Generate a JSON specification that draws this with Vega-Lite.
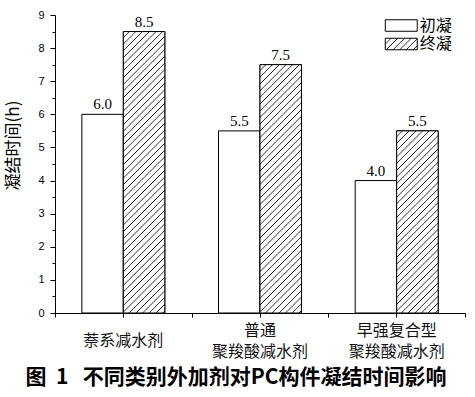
{
  "$schema": "https://vega.github.io/schema/vega-lite/v6.json",
  "width": 410,
  "height": 298,
  "autosize": "none",
  "padding": {"left": 55, "top": 15, "right": 10, "bottom": 84},
  "params": [
    {"name": "hatch", "value": [
      {"offset":0.015,"color":"#fff"},{"offset":0.0175,"color":"#000"},{"offset":0.02,"color":"#fff"},
      {"offset":0.035,"color":"#fff"},{"offset":0.0375,"color":"#000"},{"offset":0.04,"color":"#fff"},
      {"offset":0.055,"color":"#fff"},{"offset":0.0575,"color":"#000"},{"offset":0.06,"color":"#fff"},
      {"offset":0.075,"color":"#fff"},{"offset":0.0775,"color":"#000"},{"offset":0.08,"color":"#fff"},
      {"offset":0.095,"color":"#fff"},{"offset":0.0975,"color":"#000"},{"offset":0.1,"color":"#fff"},
      {"offset":0.115,"color":"#fff"},{"offset":0.1175,"color":"#000"},{"offset":0.12,"color":"#fff"},
      {"offset":0.135,"color":"#fff"},{"offset":0.1375,"color":"#000"},{"offset":0.14,"color":"#fff"},
      {"offset":0.155,"color":"#fff"},{"offset":0.1575,"color":"#000"},{"offset":0.16,"color":"#fff"},
      {"offset":0.175,"color":"#fff"},{"offset":0.1775,"color":"#000"},{"offset":0.18,"color":"#fff"},
      {"offset":0.195,"color":"#fff"},{"offset":0.1975,"color":"#000"},{"offset":0.2,"color":"#fff"},
      {"offset":0.215,"color":"#fff"},{"offset":0.2175,"color":"#000"},{"offset":0.22,"color":"#fff"},
      {"offset":0.235,"color":"#fff"},{"offset":0.2375,"color":"#000"},{"offset":0.24,"color":"#fff"},
      {"offset":0.255,"color":"#fff"},{"offset":0.2575,"color":"#000"},{"offset":0.26,"color":"#fff"},
      {"offset":0.275,"color":"#fff"},{"offset":0.2775,"color":"#000"},{"offset":0.28,"color":"#fff"},
      {"offset":0.295,"color":"#fff"},{"offset":0.2975,"color":"#000"},{"offset":0.3,"color":"#fff"},
      {"offset":0.315,"color":"#fff"},{"offset":0.3175,"color":"#000"},{"offset":0.32,"color":"#fff"},
      {"offset":0.335,"color":"#fff"},{"offset":0.3375,"color":"#000"},{"offset":0.34,"color":"#fff"},
      {"offset":0.355,"color":"#fff"},{"offset":0.3575,"color":"#000"},{"offset":0.36,"color":"#fff"},
      {"offset":0.375,"color":"#fff"},{"offset":0.3775,"color":"#000"},{"offset":0.38,"color":"#fff"},
      {"offset":0.395,"color":"#fff"},{"offset":0.3975,"color":"#000"},{"offset":0.4,"color":"#fff"},
      {"offset":0.415,"color":"#fff"},{"offset":0.4175,"color":"#000"},{"offset":0.42,"color":"#fff"},
      {"offset":0.435,"color":"#fff"},{"offset":0.4375,"color":"#000"},{"offset":0.44,"color":"#fff"},
      {"offset":0.455,"color":"#fff"},{"offset":0.4575,"color":"#000"},{"offset":0.46,"color":"#fff"},
      {"offset":0.475,"color":"#fff"},{"offset":0.4775,"color":"#000"},{"offset":0.48,"color":"#fff"},
      {"offset":0.495,"color":"#fff"},{"offset":0.4975,"color":"#000"},{"offset":0.5,"color":"#fff"},
      {"offset":0.515,"color":"#fff"},{"offset":0.5175,"color":"#000"},{"offset":0.52,"color":"#fff"},
      {"offset":0.535,"color":"#fff"},{"offset":0.5375,"color":"#000"},{"offset":0.54,"color":"#fff"},
      {"offset":0.555,"color":"#fff"},{"offset":0.5575,"color":"#000"},{"offset":0.56,"color":"#fff"},
      {"offset":0.575,"color":"#fff"},{"offset":0.5775,"color":"#000"},{"offset":0.58,"color":"#fff"},
      {"offset":0.595,"color":"#fff"},{"offset":0.5975,"color":"#000"},{"offset":0.6,"color":"#fff"},
      {"offset":0.615,"color":"#fff"},{"offset":0.6175,"color":"#000"},{"offset":0.62,"color":"#fff"},
      {"offset":0.635,"color":"#fff"},{"offset":0.6375,"color":"#000"},{"offset":0.64,"color":"#fff"},
      {"offset":0.655,"color":"#fff"},{"offset":0.6575,"color":"#000"},{"offset":0.66,"color":"#fff"},
      {"offset":0.675,"color":"#fff"},{"offset":0.6775,"color":"#000"},{"offset":0.68,"color":"#fff"},
      {"offset":0.695,"color":"#fff"},{"offset":0.6975,"color":"#000"},{"offset":0.7,"color":"#fff"},
      {"offset":0.715,"color":"#fff"},{"offset":0.7175,"color":"#000"},{"offset":0.72,"color":"#fff"},
      {"offset":0.735,"color":"#fff"},{"offset":0.7375,"color":"#000"},{"offset":0.74,"color":"#fff"},
      {"offset":0.755,"color":"#fff"},{"offset":0.7575,"color":"#000"},{"offset":0.76,"color":"#fff"},
      {"offset":0.775,"color":"#fff"},{"offset":0.7775,"color":"#000"},{"offset":0.78,"color":"#fff"},
      {"offset":0.795,"color":"#fff"},{"offset":0.7975,"color":"#000"},{"offset":0.8,"color":"#fff"},
      {"offset":0.815,"color":"#fff"},{"offset":0.8175,"color":"#000"},{"offset":0.82,"color":"#fff"},
      {"offset":0.835,"color":"#fff"},{"offset":0.8375,"color":"#000"},{"offset":0.84,"color":"#fff"},
      {"offset":0.855,"color":"#fff"},{"offset":0.8575,"color":"#000"},{"offset":0.86,"color":"#fff"},
      {"offset":0.875,"color":"#fff"},{"offset":0.8775,"color":"#000"},{"offset":0.88,"color":"#fff"},
      {"offset":0.895,"color":"#fff"},{"offset":0.8975,"color":"#000"},{"offset":0.9,"color":"#fff"},
      {"offset":0.915,"color":"#fff"},{"offset":0.9175,"color":"#000"},{"offset":0.92,"color":"#fff"},
      {"offset":0.935,"color":"#fff"},{"offset":0.9375,"color":"#000"},{"offset":0.94,"color":"#fff"},
      {"offset":0.955,"color":"#fff"},{"offset":0.9575,"color":"#000"},{"offset":0.96,"color":"#fff"},
      {"offset":0.975,"color":"#fff"},{"offset":0.9775,"color":"#000"},{"offset":0.98,"color":"#fff"},
      {"offset":0.995,"color":"#fff"},{"offset":0.9975,"color":"#000"},{"offset":1,"color":"#fff"}
    ]}
  ],
  "title": {
    "text": "图\u00a0\u00a01\u00a0\u00a0\u00a0不同类别外加剂对PC构件凝结时间影响",
    "orient": "bottom",
    "anchor": "middle",
    "frame": "group",
    "dx": -24,
    "offset": 8,
    "font": "Noto Sans CJK SC",
    "fontSize": 21,
    "fontWeight": "bold",
    "color": "black"
  },
  "config": {
    "view": {"stroke": null},
    "axis": {"grid": false, "domainColor": "black", "tickColor": "black", "labelColor": "black", "titleColor": "black", "domainWidth": 1, "tickWidth": 1}
  },
  "data": {"values": [
    {"cat": "萘系减水剂", "series": "初凝", "value": 6.0},
    {"cat": "萘系减水剂", "series": "终凝", "value": 8.5},
    {"cat": "普通 聚羧酸减水剂", "series": "初凝", "value": 5.5},
    {"cat": "普通 聚羧酸减水剂", "series": "终凝", "value": 7.5},
    {"cat": "早强复合型 聚羧酸减水剂", "series": "初凝", "value": 4.0},
    {"cat": "早强复合型 聚羧酸减水剂", "series": "终凝", "value": 5.5}
  ]},
  "layer": [
    {
      "mark": {"type": "bar", "stroke": "black", "strokeWidth": 1},
      "encoding": {
        "x": {"field": "cat", "type": "nominal", "sort": null,
          "scale": {"domain": ["萘系减水剂", "普通 聚羧酸减水剂", "早强复合型 聚羧酸减水剂"], "paddingInner": 0, "paddingOuter": 0},
          "axis": {"orient": "bottom", "title": null, "labelAngle": 0, "tickSize": 4, "tickBand": "center",
            "labelExpr": "indexof(datum.label, ' ') >= 0 ? [split(datum.label, ' ')[0], '\u2800', split(datum.label, ' ')[1]] : ['\u2800', datum.label, '\u2800']",
            "labelFont": "Noto Sans CJK SC", "labelFontSize": 16,
            "labelLineHeight": 10.5, "labelBaseline": "middle", "labelPadding": 13, "labelOverlap": false, "labelColor": "#111"}},
        "xOffset": {"field": "series", "type": "nominal", "sort": null,
          "scale": {"domain": ["初凝", "终凝"], "paddingInner": 0, "paddingOuter": 0.647}},
        "y": {"field": "value", "type": "quantitative",
          "scale": {"domain": [0, 9], "nice": false},
          "axis": {"orient": "left", "values": [0,1,2,3,4,5,6,7,8,9], "tickSize": 5, "labelFont": "Liberation Sans",
            "labelFontSize": 11, "labelPadding": 6, "title": "凝结时间(h)", "titleFont": "Noto Sans CJK SC",
            "titleFontSize": 17, "titleFontWeight": "normal", "titlePadding": 15, "titleY": 130}},
        "fill": {"field": "series", "type": "nominal", "sort": null,
          "scale": {"domain": ["初凝", "终凝"], "range": ["white", {"expr": "{gradient: 'linear', x1: 0, y1: 0, x2: 9.2714, y2: 3.3319, stops: hatch}"}]},
          "legend": {"orient": "none", "legendX": 338.25, "legendY": 2.5, "title": null,
            "symbolType": "M-2.78,-1H2.78V1H-2.78Z", "symbolSize": 132.25, "symbolStrokeColor": "black",
            "symbolStrokeWidth": 1, "labelFont": "Noto Sans CJK SC", "labelFontSize": 16, "labelOffset": 10.5,
            "rowPadding": 2.5, "padding": 0, "labelColor": "black",
            "encode": {"symbols": {"update": {
              "stroke": {"value": "black"},
              "strokeWidth": {"value": 1},
              "opacity": {"value": 1}}}}}}
      }
    },
    {
      "transform": [{"filter": "datum.series === '终凝' && datum.cat === '萘系减水剂'"}],
      "mark": {"type": "bar", "stroke": "black", "strokeWidth": 1,
        "fill": {"expr": "{gradient: 'linear', x1: 0, y1: 0, x2: 0.17178, y2: 1.16498, stops: hatch}"}},
      "encoding": {
        "x": {"field": "cat", "type": "nominal", "sort": null,
          "axis": {"orient": "bottom", "title": null, "labels": false, "domain": false, "tickBand": "extent", "tickSize": 4}},
        "xOffset": {"field": "series", "type": "nominal", "sort": null},
        "y": {"field": "value", "type": "quantitative",
          "axis": {"orient": "left", "values": [0.5,1.5,2.5,3.5,4.5,5.5,6.5,7.5,8.5], "tickSize": 3, "labels": false, "domain": false, "title": null}}
      }
    },
    {
      "transform": [{"filter": "datum.series === '终凝' && datum.cat === '普通 聚羧酸减水剂'"}],
      "mark": {"type": "bar", "stroke": "black", "strokeWidth": 1,
        "fill": {"expr": "{gradient: 'linear', x1: 0, y1: 0, x2: 0.21932, y2: 1.31236, stops: hatch}"}},
      "encoding": {
        "x": {"field": "cat", "type": "nominal", "sort": null, "axis": null},
        "xOffset": {"field": "series", "type": "nominal", "sort": null},
        "y": {"field": "value", "type": "quantitative", "axis": null}
      }
    },
    {
      "transform": [{"filter": "datum.series === '终凝' && datum.cat === '早强复合型 聚羧酸减水剂'"}],
      "mark": {"type": "bar", "stroke": "black", "strokeWidth": 1,
        "fill": {"expr": "{gradient: 'linear', x1: 0, y1: 0, x2: 0.39851, y2: 1.74874, stops: hatch}"}},
      "encoding": {
        "x": {"field": "cat", "type": "nominal", "sort": null, "axis": null},
        "xOffset": {"field": "series", "type": "nominal", "sort": null},
        "y": {"field": "value", "type": "quantitative", "axis": null}
      }
    },
    {
      "mark": {"type": "text", "baseline": "bottom", "dy": -2, "font": "Liberation Serif", "fontSize": 15, "color": "black"},
      "encoding": {
        "x": {"field": "cat", "type": "nominal", "sort": null, "axis": null},
        "xOffset": {"field": "series", "type": "nominal", "sort": null},
        "y": {"field": "value", "type": "quantitative", "axis": null},
        "text": {"field": "value", "type": "quantitative", "format": ".1f"}
      }
    }
  ],
  "resolve": {"axis": {"x": "independent", "y": "independent"}}
}
